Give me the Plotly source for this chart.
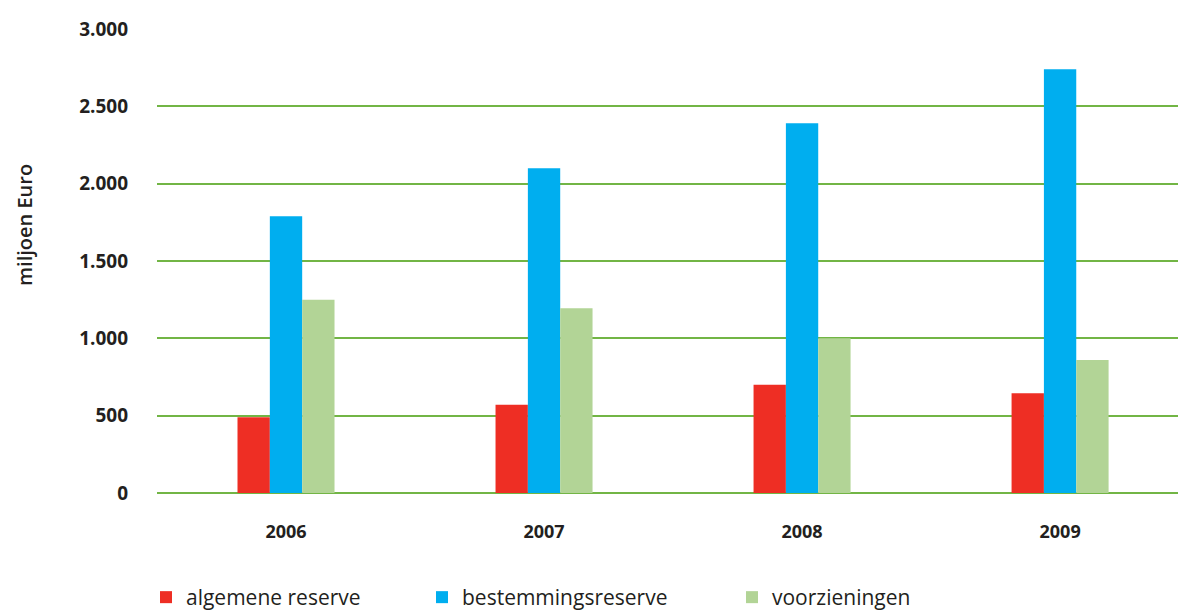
import plotly.graph_objects as go

years = ["2006", "2007", "2008", "2009"]
algemene_reserve = [490, 570, 700, 645]
bestemmingsreserve = [1790, 2100, 2390, 2740]
voorzieningen = [1250, 1195, 1000, 860]

y_ticks = [0, 500, 1000, 1500, 2000, 2500, 3000]
y_tick_text = ["0", "500", "1.000", "1.500", "2.000", "2.500", "3.000"]

series = [
    ("algemene reserve", algemene_reserve, "#ee2e24", "legend"),
    ("bestemmingsreserve", bestemmingsreserve, "#00aeef", "legend2"),
    ("voorzieningen", voorzieningen, "#b2d496", "legend3"),
]

fig = go.Figure()
for name, vals, color, leg in series:
    fig.add_trace(go.Bar(
        x=years, y=vals, name=name, marker=dict(color=color, line=dict(width=0)),
        legend=leg,
    ))

text_color = "#231f20"
grid_color = "#72b545"
legend_font = dict(family="Open Sans", size=21, color=text_color, weight=500)

def legend_at(xpix):
    return dict(
        xref="container", yref="container",
        x=xpix / 1178, xanchor="left", y=(610 - 577) / 610, yanchor="top",
        orientation="h", font=legend_font, bgcolor="rgba(0,0,0,0)",
        borderwidth=0,
    )

fig.update_layout(
    width=1178, height=610,
    margin=dict(l=157, r=0, t=29, b=117, autoexpand=False),
    plot_bgcolor="white", paper_bgcolor="white",
    barmode="group", bargap=0.624, bargroupgap=0,
    showlegend=True,
    legend=legend_at(146),
    legend2=legend_at(422),
    legend3=legend_at(732),
    xaxis=dict(
        type="category", range=[-0.5, 3.457], showgrid=False, showline=False,
        zeroline=False, ticks="", ticklabelstandoff=26,
        tickfont=dict(family="Open Sans", size=18, color=text_color, weight=700),
    ),
    yaxis=dict(
        range=[0, 3000], tickvals=y_ticks, ticktext=y_tick_text,
        showgrid=True, gridcolor=grid_color, gridwidth=1.5,
        zeroline=True, zerolinecolor=grid_color, zerolinewidth=1.5,
        showline=False, ticks="", ticklabelstandoff=28,
        tickfont=dict(family="Open Sans", size=19, color=text_color, weight=700),
    ),
    annotations=[dict(
        text="miljoen Euro", textangle=-90, xref="paper", yref="paper",
        x=(24 - 157) / 1021, y=(493 - 225) / 464, xanchor="center", yanchor="middle",
        showarrow=False,
        font=dict(family="Open Sans", size=20, color=text_color, weight=600),
    )],
)

fig.write_html("out.html")
